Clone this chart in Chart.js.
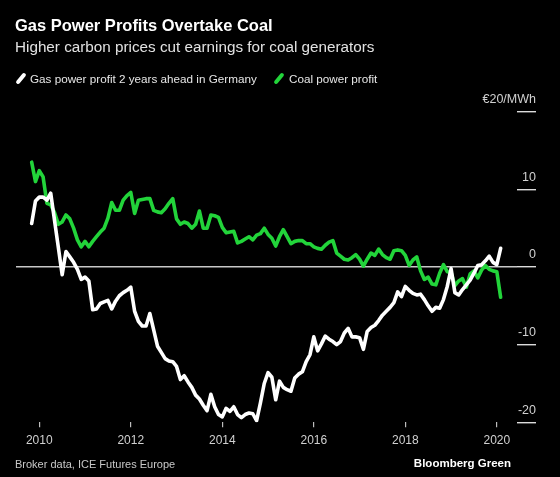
<!DOCTYPE html>
<html>
<head>
<meta charset="utf-8">
<script src="https://cdn.jsdelivr.net/npm/chart.js@4"></script>
<style>
  body { margin: 0; background: #000; font-family: "Liberation Sans", Arial, sans-serif; }
  #wrap { position: relative; width: 560px; height: 477px; overflow: hidden; }
  #myChart { position: absolute; left: 0; top: 0; }
  .txt { position: absolute; line-height: 1; white-space: nowrap; }
  .title { left: 15px; top: 17px; font-size: 16.5px; font-weight: bold; color: #fff; }
  .sub { left: 15px; top: 39px; font-size: 15.25px; color: #e2e2e2; }
  .leg { top: 72.8px; font-size: 11.7px; color: #e6e6e6; }
  .swatch { position: absolute; top: 72px; width: 4px; height: 13px; border-radius: 2px; transform: rotate(40deg); }
  .src { left: 15px; top: 458.5px; font-size: 11px; color: #c8c8c8; }
  .brand { right: 49px; top: 458px; font-size: 11.5px; font-weight: bold; color: #fff; }
</style>
</head>
<body>
<div id="wrap">
  <canvas id="myChart" width="560" height="477"></canvas>
  <div class="txt title">Gas Power Profits Overtake Coal</div>
  <div class="txt sub">Higher carbon prices cut earnings for coal generators</div>
  <span class="swatch" style="left:19px; background:#fff;"></span>
  <div class="txt leg" style="left:30px;">Gas power profit 2 years ahead in Germany</div>
  <span class="swatch" style="left:277px; background:#22d43a;"></span>
  <div class="txt leg" style="left:289px;">Coal power profit</div>
  <div class="txt src">Broker data, ICE Futures Europe</div>
  <div class="txt brand">Bloomberg Green</div>
</div>
<script>
// monthly readings, Nov 2009 - Feb 2020 (EUR/MWh)
const startYear = 2009 + 10 / 12;

const gasProfit = [
  5.6, 8.5, 9.0, 9.0, 8.6, 9.5, 6.0, 2.5, -1.0, 2.0,
  1.3, 0.6, -0.3, -1.6, -1.3, -1.8, -5.5, -5.4, -4.7, -4.5,
  -4.3, -5.4, -4.4, -3.7, -3.3, -3.0, -2.6, -5.7, -7.0, -7.6,
  -7.6, -6.0, -8.1, -10.2, -11.0, -11.8, -12.1, -12.2, -12.8, -14.5,
  -14.0, -14.8, -15.5, -16.5, -17.0, -17.8, -18.5, -16.4, -18.0, -19.0,
  -19.3, -18.2, -18.6, -18.0, -19.0, -19.4, -19.0, -18.8, -18.9, -19.8,
  -17.5, -15.0, -13.6, -14.2, -17.1, -14.7, -15.5, -15.8, -16.0, -14.3,
  -13.8, -13.5, -12.2, -11.3, -9.0, -10.8, -9.9, -8.9, -9.3, -9.6,
  -10.0, -9.6, -8.5, -7.9, -9.0, -9.0, -9.1, -10.6, -8.3, -7.8,
  -7.5, -6.9, -6.2, -5.7, -5.2, -4.6, -3.2, -3.8, -2.5, -3.0,
  -3.4, -3.6, -3.5, -4.2, -5.0, -5.7, -5.2, -5.3, -4.2, -2.5,
  -0.2, -3.3, -3.6, -2.9, -2.3, -1.7, -0.8, 0.2, 0.3, 0.8,
  1.4, 0.6, 0.3, 2.4
];

const coalProfit = [
  13.5, 11.0, 12.4, 11.6, 8.2, 8.0, 7.0, 5.5, 5.8, 6.7,
  6.2, 5.0, 3.5, 2.6, 3.3, 2.6, 3.3, 3.9, 4.5, 5.0,
  6.3, 8.3, 7.3, 7.3, 8.6, 9.2, 9.6, 6.9, 8.6, 8.7,
  8.8, 8.8, 7.3, 7.1, 7.0, 7.5, 8.2, 8.8, 6.2, 5.5,
  5.8, 5.6, 5.0, 5.5, 7.2, 5.0, 5.0, 6.7, 6.6, 6.4,
  5.1, 4.4, 4.5, 4.6, 3.1, 3.3, 3.6, 3.9, 3.5, 4.1,
  4.3, 5.0, 4.2, 3.7, 2.7, 3.9, 4.8, 3.9, 3.0, 3.3,
  3.4, 3.4, 3.0, 3.0, 2.6, 2.4, 2.3, 2.8, 3.2, 3.4,
  1.8, 1.4, 1.0, 0.9, 1.2, 1.6, 1.0, 0.1, 1.0, 1.8,
  1.5, 2.3, 1.6, 1.2, 1.0, 2.1, 2.2, 2.1, 1.5, 0.2,
  0.9, 1.3, -0.5, -1.6, -1.3, -2.2, -2.3, -0.8, 0.3, -0.6,
  -0.7, -2.4, -1.8, -1.5, -2.6, -0.9, -0.5, -1.4, -0.4, 0.2,
  -0.3, -0.5, -0.6, -3.9
];

const xTickYears = [2010, 2012, 2014, 2016, 2018, 2020];
const yTickValues = [20, 10, 0, -10, -20];
const yTickLabels = ['€20/MWh', '10', '0', '-10', '-20'];

const toPoints = arr => arr.map((v, i) => ({ x: startYear + i / 12, y: v }));

Chart.defaults.font.family = '"Liberation Sans", Arial, sans-serif';

const ctx = document.getElementById('myChart').getContext('2d');

new Chart(ctx, {
  type: 'line',
  data: {
    datasets: [
      {
        label: 'Gas power profit 2 years ahead in Germany',
        data: toPoints(gasProfit),
        borderColor: '#ffffff',
        borderWidth: 3.6,
        pointRadius: 0,
        borderJoinStyle: 'round',
        borderCapStyle: 'round',
        tension: 0
      },
      {
        label: 'Coal power profit',
        data: toPoints(coalProfit),
        borderColor: '#22d43a',
        borderWidth: 3.6,
        pointRadius: 0,
        borderJoinStyle: 'round',
        borderCapStyle: 'round',
        tension: 0
      }
    ]
  },
  options: {
    responsive: false,
    animation: false,
    layout: { padding: { left: 16, right: 24, top: 111.7, bottom: 0 } },
    plugins: {
      legend: { display: false },
      tooltip: { enabled: false }
    },
    scales: {
      x: {
        type: 'linear',
        min: 2009.491,
        max: 2020.441,
        afterBuildTicks: s => { s.ticks = xTickYears.map(v => ({ value: v })); },
        afterFit: s => { s.height = 477 - 422.3; },
        border: { display: false },
        grid: { drawOnChartArea: false, drawTicks: true, tickLength: 5, tickColor: '#bdbdbd', lineWidth: 1.2 },
        ticks: {
          color: '#d0d0d0',
          font: { size: 12 },
          padding: 6,
          maxRotation: 0,
          callback: v => String(v)
        }
      },
      y: {
        position: 'right',
        min: -20,
        max: 20,
        afterBuildTicks: s => { s.ticks = yTickValues.map(v => ({ value: v })); },
        afterFit: s => { s.width = 19; },
        border: { display: false },
        grid: {
          drawOnChartArea: true,
          drawTicks: true,
          tickLength: 19,
          lineWidth: 1.4,
          color: c => (c.tick && c.tick.value === 0 ? '#c8c8c8' : 'rgba(0,0,0,0)'),
          tickColor: '#dcdcdc'
        },
        ticks: {
          mirror: true,
          padding: 19,
          labelOffset: -12,
          color: '#d0d0d0',
          font: { size: 12.5 },
          callback: v => yTickLabels[yTickValues.indexOf(v)]
        }
      }
    }
  }
});
</script>
</body>
</html>
